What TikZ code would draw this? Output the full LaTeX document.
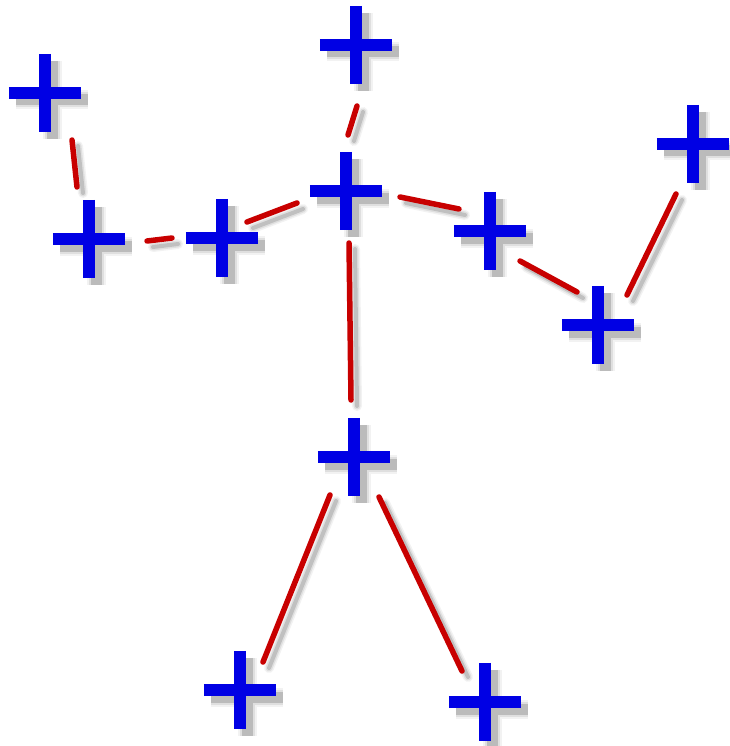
\documentclass[tikz,border=0pt]{standalone}
\usepackage{tikz}
\usepackage{xcolor}
\usetikzlibrary{calc}
\definecolor{cJoint}{RGB}{0,0,228}
\definecolor{cBone}{RGB}{200,0,0}
\tikzset{
	joint/.style    ={inner sep=0pt, minimum width=72pt, minimum height=78pt},
	bone/.style     ={line width=5.5pt, cBone, line cap=round},
	boneshade/.style={line cap=round, black},
	cross/.style    ={line width=12pt, cJoint},
	crossshade/.style={black},
}

\begin{document}
\begin{tikzpicture}[x=1pt, y=-1pt]
	\useasboundingbox (0,0) rectangle (729,746);
	% joints
	\node[joint] (head)  at (356,45)  {};
	\node[joint] (neck)  at (346,191) {};
	\node[joint] (lhand) at (45,93)   {};
	\node[joint] (lelb)  at (89,239)  {};
	\node[joint] (lsho)  at (222,238) {};
	\node[joint] (rsho)  at (490,231) {};
	\node[joint] (relb)  at (598,325) {};
	\node[joint] (rhand) at (693,144) {};
	\node[joint] (hip)   at (354,457) {};
	\node[joint] (lfoot) at (240,690) {};
	\node[joint] (rfoot) at (485,702) {};
	% shadows of the crosses
	\foreach \j in {head,neck,lhand,lelb,lsho,rsho,relb,rhand,hip,lfoot,rfoot}
		\foreach \w/\o in {19/0.05,15/0.08,11/0.16}
			\draw[crossshade, line width=\w pt, opacity=\o]
				([shift={(7,7)}]\j.north) -- ([shift={(7,7)}]\j.south)
				([shift={(7,7)}]\j.west) -- ([shift={(7,7)}]\j.east);
	% bones
	\foreach \a/\ax/\ay/\b/\bx/\by in {head/1/61/neck/2/-56, lhand/27/47/lelb/-12/-52,
		lelb/58/2/lsho/-50/0, lsho/25/-16/neck/-49/12, neck/54/6/rsho/-31/-22,
		rsho/30/30/relb/-21/-33, relb/29/-30/rhand/-17/50, neck/3/52/hip/-3/-57,
		hip/-24/38/lfoot/23/-28, hip/25/40/rfoot/-23/-31}
	{
		\foreach \w/\o in {10/0.05,7/0.08,4/0.14}
			\draw[boneshade, line width=\w pt, opacity=\o]
				([shift={(\ax+6,\ay+6)}]\a.center) -- ([shift={(\bx+6,\by+6)}]\b.center);
		\draw[bone] ([shift={(\ax,\ay)}]\a.center) -- ([shift={(\bx,\by)}]\b.center);
	}
	% crosses
	\foreach \j in {head,neck,lhand,lelb,lsho,rsho,relb,rhand,hip,lfoot,rfoot}
		\draw[cross] (\j.north) -- (\j.south) (\j.west) -- (\j.east);
\end{tikzpicture}
\end{document}
